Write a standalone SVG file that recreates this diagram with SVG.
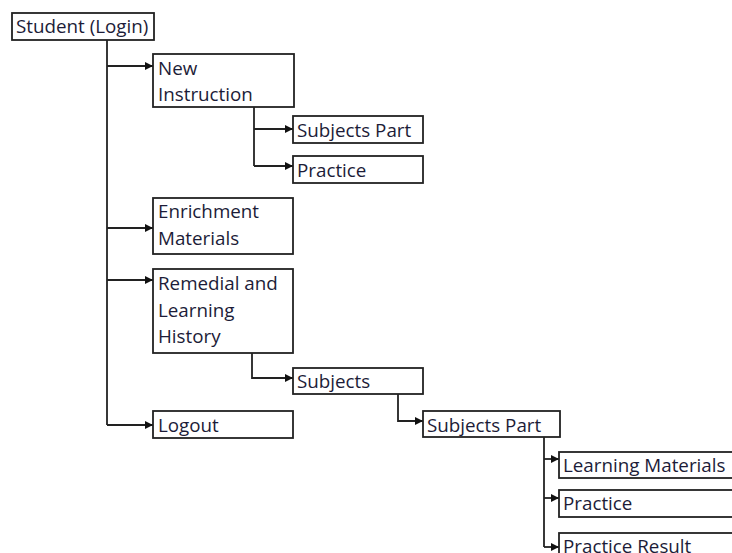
<svg xmlns="http://www.w3.org/2000/svg" width="732" height="553" viewBox="0 0 732 553">
<defs>
<style>
.box{fill:#fff;stroke:#222;stroke-width:1.8}
.t{font-family:"Open Sans","Noto Sans",sans-serif;font-size:18.8px;fill:#1c1c38}
.c{fill:none;stroke:#222;stroke-width:1.8}
</style>
<marker id="ah" markerUnits="userSpaceOnUse" markerWidth="9" markerHeight="9" refX="8" refY="4.5" orient="auto">
<path d="M0,0.5 L8,4.5 L0,8.5 z" fill="#111"/>
</marker>
</defs>
<rect width="732" height="553" fill="#fff"/>
<g id="connectors">
<path class="c" d="M107,40 V425"/>
<path class="c" d="M107,66 H153" marker-end="url(#ah)"/>
<path class="c" d="M107,228 H153" marker-end="url(#ah)"/>
<path class="c" d="M107,280 H153" marker-end="url(#ah)"/>
<path class="c" d="M107,425 H153" marker-end="url(#ah)"/>
<path class="c" d="M254,107 V166"/>
<path class="c" d="M254,129 H293" marker-end="url(#ah)"/>
<path class="c" d="M254,166 H293" marker-end="url(#ah)"/>
<path class="c" d="M252,353 V378 H293" marker-end="url(#ah)"/>
<path class="c" d="M398,394 V421 H423" marker-end="url(#ah)"/>
<path class="c" d="M544,437 V547"/>
<path class="c" d="M544,459 H559" marker-end="url(#ah)"/>
<path class="c" d="M544,498 H559" marker-end="url(#ah)"/>
<path class="c" d="M544,547 H559" marker-end="url(#ah)"/>
</g>
<g id="student-login"><rect class="box" x="12" y="13" width="142" height="27"/><text class="t" x="16" y="33">Student (Login)</text></g>
<g id="new-instruction"><rect class="box" x="153" y="54" width="141" height="53"/><text class="t" x="158" y="75">New</text><text class="t" x="158" y="101">Instruction</text></g>
<g id="subjects-part-1"><rect class="box" x="293" y="116" width="130" height="27"/><text class="t" x="297" y="137">Subjects Part</text></g>
<g id="practice-1"><rect class="box" x="293" y="156" width="130" height="27"/><text class="t" x="297" y="177">Practice</text></g>
<g id="enrichment"><rect class="box" x="153" y="198" width="140" height="56"/><text class="t" x="158" y="218">Enrichment</text><text class="t" x="158" y="245">Materials</text></g>
<g id="remedial"><rect class="box" x="153" y="269" width="140" height="84"/><text class="t" x="158" y="290">Remedial and</text><text class="t" x="158" y="317">Learning</text><text class="t" x="158" y="343">History</text></g>
<g id="logout"><rect class="box" x="153" y="411" width="140" height="27"/><text class="t" x="158" y="432">Logout</text></g>
<g id="subjects"><rect class="box" x="293" y="368" width="130" height="26"/><text class="t" x="297" y="388">Subjects</text></g>
<g id="subjects-part-2"><rect class="box" x="423" y="411" width="137" height="26"/><text class="t" x="427" y="432">Subjects Part</text></g>
<g id="learning-materials"><rect class="box" x="559" y="452" width="190" height="26"/><text class="t" x="563" y="472">Learning Materials</text></g>
<g id="practice-2"><rect class="box" x="559" y="490" width="190" height="27"/><text class="t" x="563" y="510">Practice</text></g>
<g id="practice-result"><rect class="box" x="559" y="533" width="190" height="30"/><text class="t" x="563" y="553">Practice Result</text></g>
</svg>
